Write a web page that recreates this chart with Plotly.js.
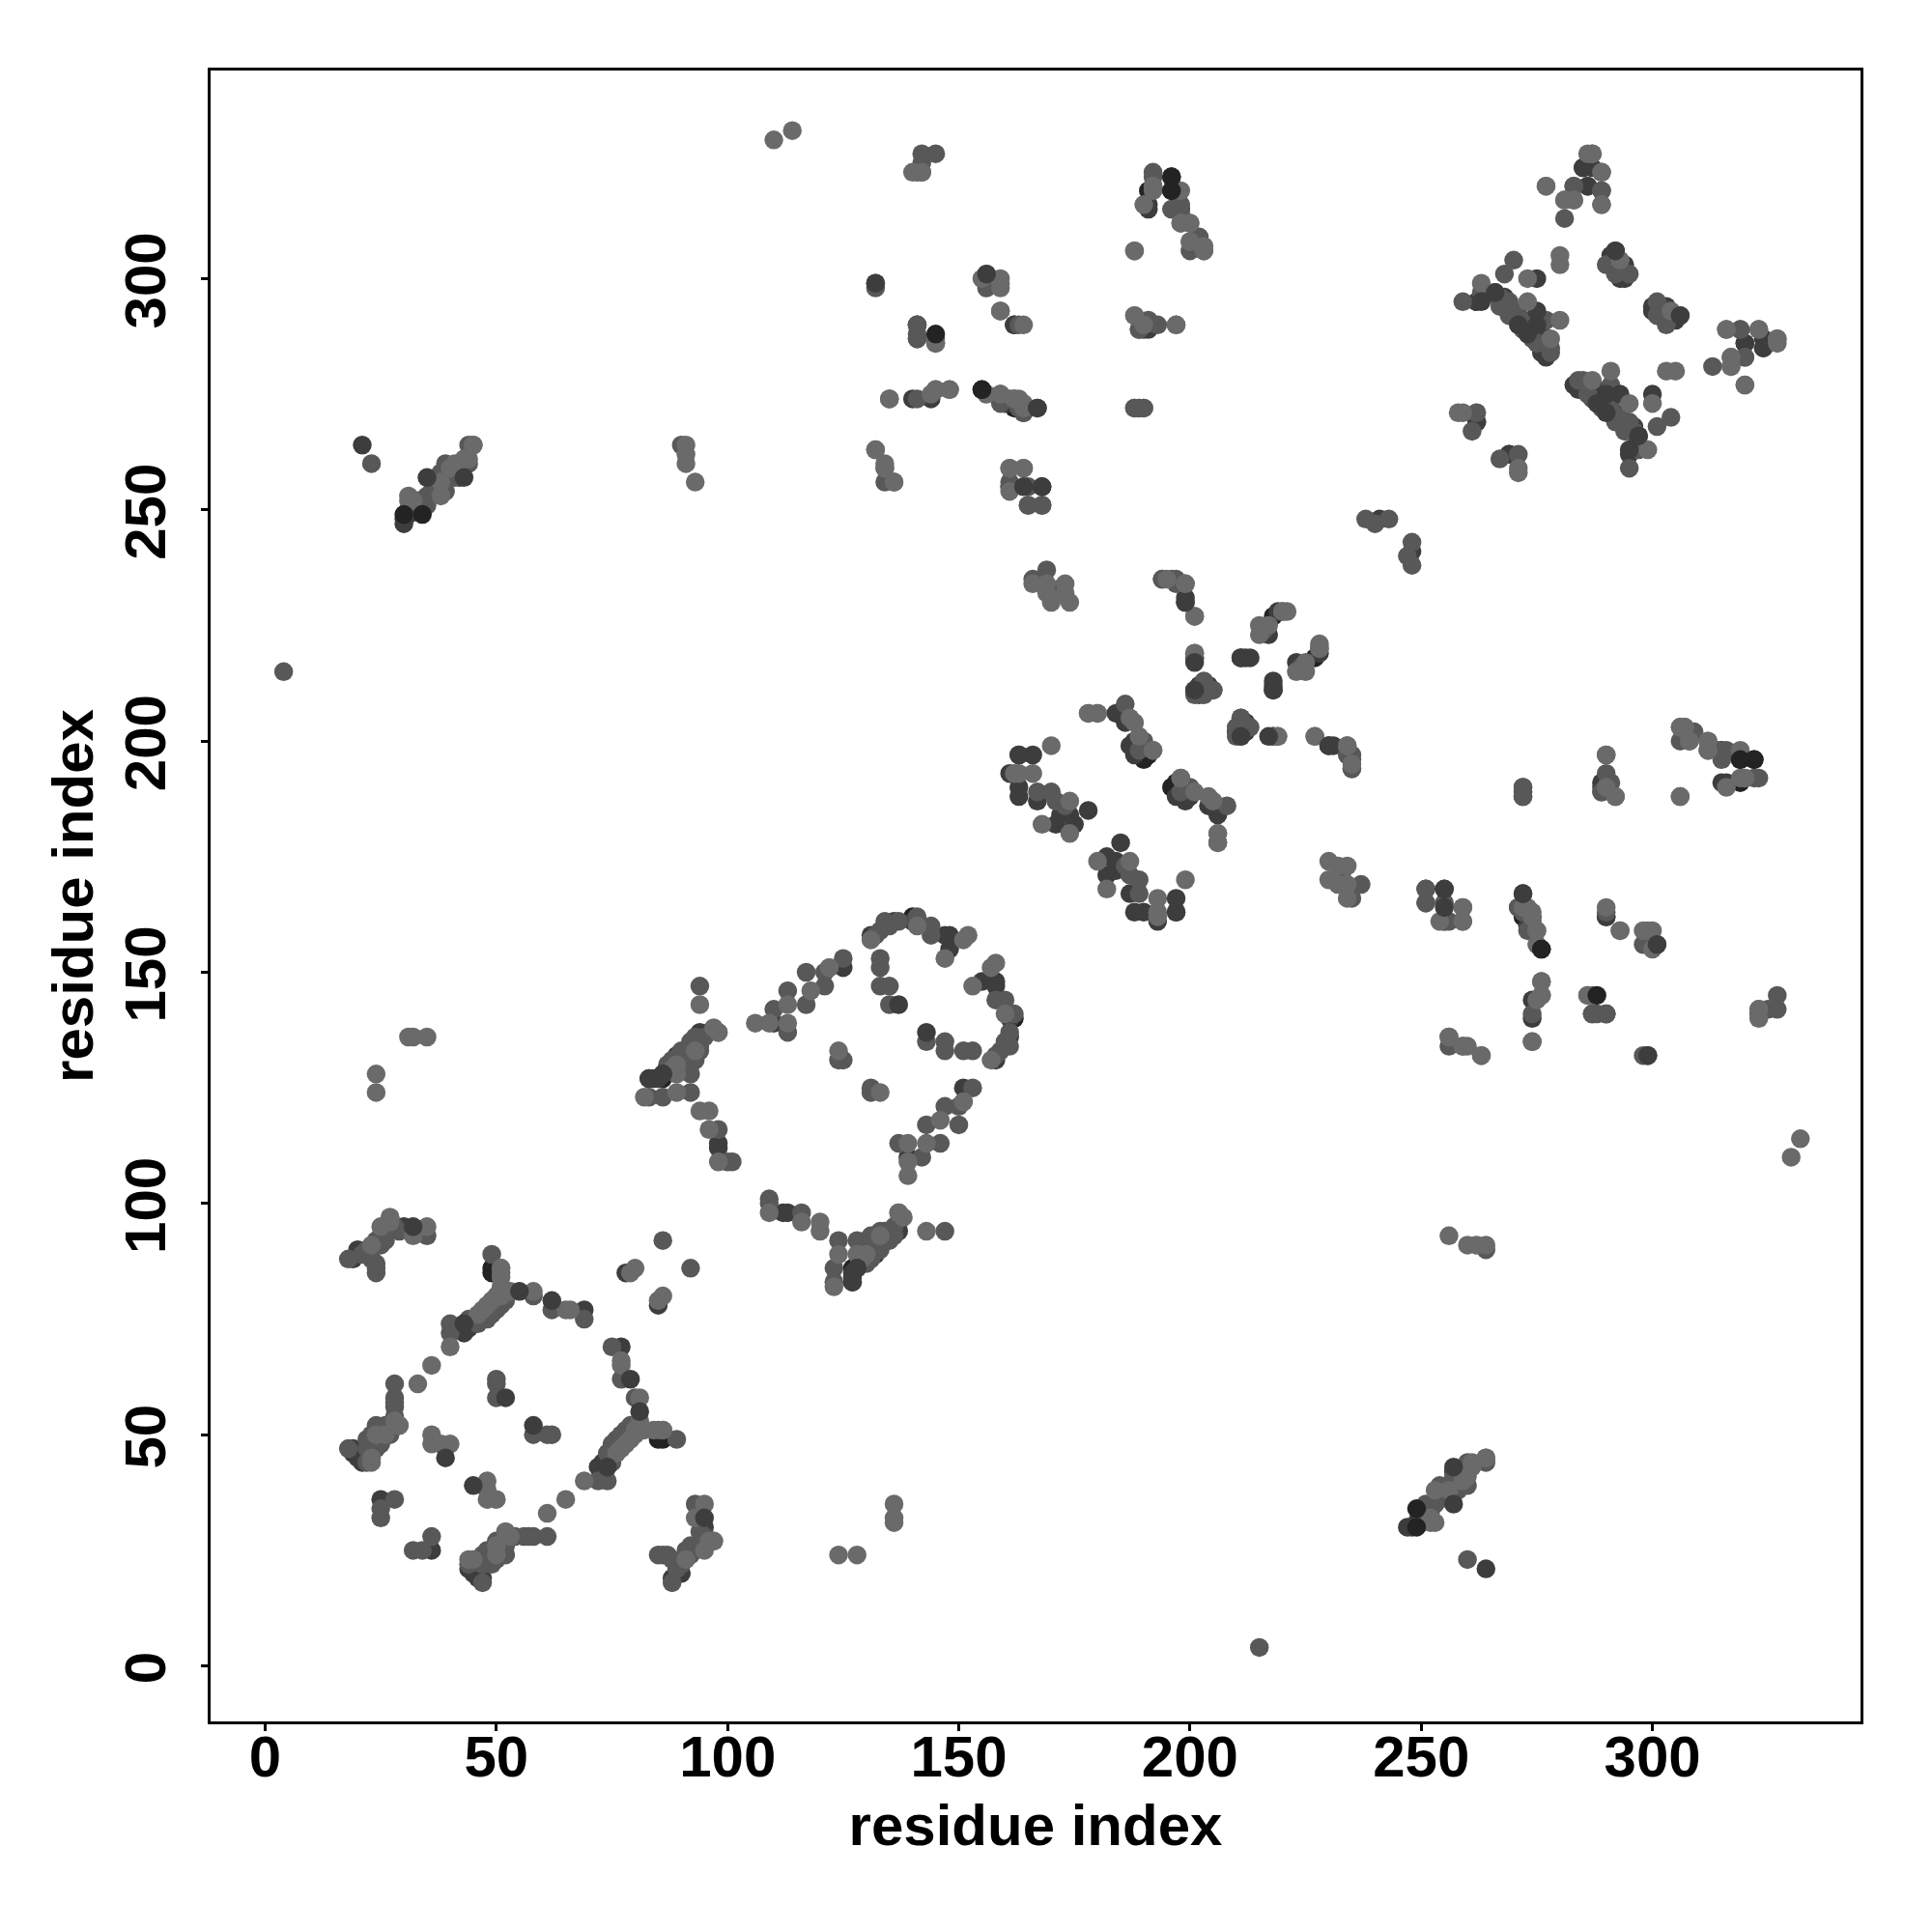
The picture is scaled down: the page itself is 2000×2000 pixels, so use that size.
<!DOCTYPE html>
<html><head><meta charset="utf-8">
<script src="https://cdn.plot.ly/plotly-3.0.1.min.js"></script>
<style>html,body{margin:0;padding:0;background:#fff}</style></head>
<body><div id="chart" style="width:2000px;height:2000px"></div>
<script>
const tickValues = [0,50,100,150,200,250,300];
const axisLabel = "residue index";

const blackContacts = [[86,127],[49,85],[49,86],[140,162],[191,319],[196,319],[190,196],[191,197],[218,227],[162,290],[162,272]];

const darkContacts = [
[19,88],[20,90],[30,95],[43,74],[44,73],[43,72],[19,47],[19,46],[20,45],[20,46],[21,45],[21,44],[25,50],[22,46],[25,36],[78,85],[69,77],
[83,127],[84,127],[85,127],[94,137],[96,137],[98,112],[98,113],[110,139],[125,151],[131,158],[136,161],[140,161],[147,158],[148,158],[148,155],[89,132],
[30,247],[30,248],[31,249],[32,250],[34,251],[42,257],[21,264],
[132,299],[157,299],[141,287],[140,274],[144,274],[164,271],[160,273],[162,274],[191,316],[191,289],[192,290],[190,289],[198,315],[191,315],
[163,190],[163,188],[161,193],[167,187],[171,182],[175,182],[172,184],[184,206],[186,204],[186,205],[187,199],[188,197],[188,200],
[199,231],[199,230],[201,218],[202,212],[203,211],[202,210],[204,212],[211,218],[212,218],[212,204],[211,203],[212,202],[217,223],[219,228],
[241,248],[262,269],[262,295],[266,297],[268,296],[271,292],[274,291],[276,288],[276,284],[277,283],
[269,262],[291,305],[293,300],[294,300],[294,303],[292,306],[285,324],[286,320],[275,300],[320,286],[324,287],[324,285],
[272,188],[290,191],[174,184],[168,251],[162,290],[141,290]
];

const midContacts = [
[18,88],[21,89],[22,90],[23,88],[24,85],[24,86],[24,87],[24,92],[25,91],[25,93],[26,92],[26,94],[28,95],[29,94],[35,93],
[49,89],[51,85],[58,80],[62,77],[69,75],[40,74],[40,72],[44,75],[45,75],[46,75],[48,77],[49,78],[50,79],[49,76],[50,77],[51,78],[47,75],[48,75],[52,79],[51,79],[46,74],
[18,47],[22,44],[22,47],[23,48],[24,49],[24,47],[26,51],[27,51],[28,52],[28,54],[28,56],[28,57],[28,58],[28,61],[28,36],[25,32],[25,34],[24,52],[22,49],[25,48],[25,51],[27,50],[23,50],[26,52],
[50,62],[50,61],[50,58],[86,92],
[83,123],[86,123],[92,124],[92,128],[94,147],[87,130],[90,131],[90,130],[91,133],[92,132],[94,134],[93,136],[88,131],[95,136],[98,116],[100,109],[101,109],[92,135],[91,131],[90,133],[92,130],[91,129],[93,131],[94,133],
[113,137],[110,142],[117,143],[113,146],[121,147],[117,150],[121,150],[125,153],[132,158],[133,159],[134,160],[134,161],[135,160],[137,161],[141,162],[144,160],[144,158],[124,131],[125,131],[133,153],[133,151],[133,147],[135,147],[135,143],
[31,250],[33,252],[35,253],[35,251],[36,254],[37,254],[37,256],[38,257],[38,258],[39,260],[39,254],[40,257],[41,257],[42,258],[43,260],[44,260],[44,264],[23,260],[4,215],[90,264],
[142,325],[142,327],[145,327],[141,288],[135,274],[141,274],[156,301],[156,298],[159,274],[159,273],[161,274],[163,272],[163,290],[132,298],
[161,256],[161,255],[165,255],[134,256],[192,323],[192,322],[191,291],[188,272],[189,272],[190,272],[190,290],[189,289],[200,306],[202,309],[196,315],[198,316],[198,314],
[163,197],[167,189],[170,189],[171,187],[173,186],[186,208],[190,200],[189,198],[216,224],[201,211],[205,211],[203,210],[211,205],[213,203],[210,201],[218,201],[234,197],[235,197],[235,194],[194,235],[196,235],
[165,251],[238,248],[240,247],[243,248],[172,233],[169,237],[166,235],[251,168],[251,165],[255,161],
[262,271],[261,267],[259,295],[263,297],[267,296],[267,295],[267,294],[269,295],[269,292],[270,293],[272,289],[272,291],[274,287],[275,286],[277,291],[278,285],[278,284],[277,286],
[268,301],[270,304],[283,320],[289,319],[281,313],[295,301],[292,301],[290,303],[320,283],[323,289],[319,289],
[272,190],[272,189],[271,164],[290,193],[289,189],[141,290],[287,141],[290,141],[141,323]
];

const lightContacts = [
[23,91],[25,95],[27,96],[27,97],[35,95],[32,93],
[51,86],[51,84],[51,82],[51,81],[50,80],[51,80],[52,81],[53,81],[58,81],[65,77],[66,77],[40,69],[36,65],[33,61],[46,76],[47,77],[48,78],[49,79],
[23,44],[23,45],[24,50],[26,50],[28,53],[29,52],[36,50],[36,48],[38,48],[40,48],[79,85],[80,86],
[82,123],[89,124],[89,128],[94,143],[97,138],[98,137],[94,120],[96,120],[96,116],[98,109],[88,129],[89,130],[93,133],
[106,139],[109,139],[113,139],[113,143],[118,146],[122,151],[131,157],[141,160],[147,153],[151,157],[152,158],[124,133],
[31,136],[32,136],[35,136],[24,128],[24,124],[31,252],[31,253],[32,252],[38,253],[38,256],[40,259],[41,260],[42,260],[43,261],[44,261],[45,264],
[91,264],[91,262],[91,260],[93,256],[110,330],[114,332],[140,323],[142,323],
[155,300],[159,300],[159,298],[159,293],[164,290],[145,287],[145,286],[144,275],[145,276],[148,276],[156,275],[159,275],[163,274],[164,273],[164,259],[161,259],[136,256],[134,260],[134,259],[132,263],
[192,319],[190,316],[198,319],[198,312],[200,312],[200,308],[203,306],[203,307],[188,306],[188,292],[197,290],[192,320],
[162,193],[163,193],[166,193],[170,199],[168,182],[174,187],[174,180],[178,206],[180,206],[188,204],[187,205],[192,198],[189,201],[206,178],[206,180],
[166,234],[169,234],[169,232],[170,230],[173,234],[173,232],[174,230],[195,235],[199,234],[201,227],[201,219],[219,201],[220,228],[221,228],[215,225],[215,223],[217,225],[227,201],[234,199],
[254,161],[259,161],[259,164],[258,271],[259,271],[263,299],[280,305],[280,303],[273,300],
[277,320],[281,317],[283,317],[287,327],[286,327],[289,323],[289,316],[293,304],[317,281],[317,283],[320,277],[316,289],
[276,148],[276,145],[274,135],[286,145],[323,142],[272,164],[274,162],[290,197],[292,188],[290,190],[306,188],[306,203],[307,203],[308,200],[312,198],[312,200],[320,192],
[256,136],[259,134],[263,132],[293,159],[299,159],[327,287]
];

const topContacts = [[32,95],[55,81],[62,79],[52,58],[39,45],[137,143],[167,272],[168,255],[178,185],[166,197],[197,163],[201,217],[213,218],[211,201],[230,199],[272,167],[299,132],[255,164],[255,168],[218,211],[306,292],[301,156],[297,266],[295,263],[275,293],[275,290],[273,288],[271,290],[43,257],[35,257],[86,128],[43,74],[127,83],[128,86]];

const crownContacts = [[196,322],[145,288],[155,276],[276,155],[196,322],[319,196],[30,249],[34,249]];

const crestContacts = [[273,295],[278,287],[280,291],[45,264],[51,86],[29,52],[98,137],[122,151],[27,97],[192,198],[220,228],[159,275]];

const shadeColors = {black:"#232323", dark:"#3d3d3d", mid:"#585858", light:"#6a6a6a"};

function trace(list, color){
  const a = list.map(p=>p[0]), b = list.map(p=>p[1]);
  return {type:"scatter", mode:"markers", x:a.concat(b), y:b.concat(a),
    marker:{size:19.5, color:color, line:{width:0}}, hoverinfo:"x+y", showlegend:false};
}
const axis = {
  tickmode:"array", tickvals:tickValues, ticktext:tickValues.map(String),
  ticks:"outside", ticklen:7, tickwidth:3, tickcolor:"#000",
  showgrid:false, zeroline:false, showline:true, mirror:true, linewidth:3, linecolor:"#000",
  tickfont:{family:"Liberation Sans", size:60, color:"#000", weight:"bold"}
};
const layout = {
  width:2000, height:2000, paper_bgcolor:"#fff", plot_bgcolor:"#fff",
  margin:{l:217.5,r:73.5,t:72.5,b:217.5,pad:0},
  showlegend:false,
  xaxis:Object.assign({}, axis, {range:[-11.8,345.0], automargin:false, ticklabelstandoff:-25,
    title:{text:"<b>"+axisLabel+"</b>", standoff:17, font:{family:"Liberation Sans", size:60, color:"#000"}}}),
  yaxis:Object.assign({}, axis, {range:[-12.0,345.0], tickangle:-90, automargin:false, ticklabelstandoff:13, ticklabelshift:11,
    title:{text:"<b>"+axisLabel+"</b>", standoff:2, font:{family:"Liberation Sans", size:60, color:"#000"}}})
};
Plotly.newPlot("chart",[
  trace(blackContacts,shadeColors.black),
  trace(darkContacts,shadeColors.dark),
  trace(midContacts,shadeColors.mid),
  trace(lightContacts,shadeColors.light),
  trace(topContacts,shadeColors.dark),
  trace(crownContacts,shadeColors.black),
  trace(crestContacts,shadeColors.light)
],layout,{displayModeBar:false,staticPlot:true});
</script></body></html>
